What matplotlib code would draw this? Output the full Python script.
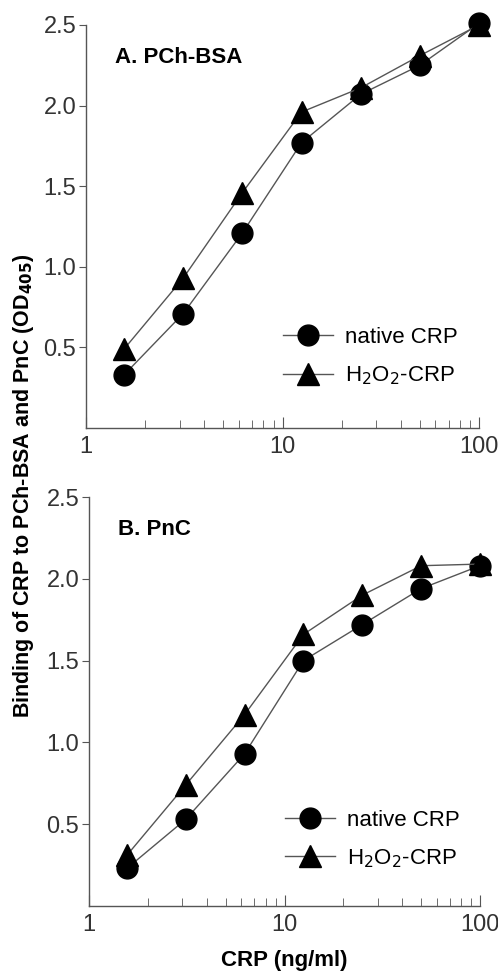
import matplotlib
matplotlib.use("Agg")
import matplotlib.pyplot as plt
from matplotlib.ticker import FixedLocator, LogLocator, NullFormatter

plt.rcParams['font.family'] = ['Liberation Sans', 'DejaVu Sans']

# CRP concentration (ng/ml), two-fold dilutions
crp = [1.5625, 3.125, 6.25, 12.5, 25, 50, 100]

# A. PCh-BSA
a_native = [0.33, 0.71, 1.21, 1.77, 2.07, 2.25, 2.51]
a_h2o2 = [0.49, 0.93, 1.46, 1.96, 2.11, 2.31, 2.50]

# B. PnC
b_native = [0.23, 0.53, 0.93, 1.50, 1.72, 1.94, 2.08]
b_h2o2 = [0.31, 0.74, 1.17, 1.66, 1.90, 2.08, 2.09]

panels = [("A. PCh-BSA", a_native, a_h2o2), ("B. PnC", b_native, b_h2o2)]
yticks = [0.5, 1.0, 1.5, 2.0, 2.5]
xticks = [1, 10, 100]

grey = '#555555'
fig = plt.figure(figsize=(4.98, 9.71), dpi=100)
# axes boxes in pixels: left, top, right, bottom
boxes = [(86, 25, 479, 428), (89, 497, 480, 906)]
leg_pos = [(0.45, 0.176), (0.45, 0.162)]
W, H = 498, 971

for (title, nat, hx), (l, t, r, b), lp in zip(panels, boxes, leg_pos):
    ax = fig.add_axes([l / W, 1 - b / H, (r - l) / W, (b - t) / H])
    ax.plot(crp, nat, color=grey, lw=1, marker='o', ms=15, mfc='black',
            mec='black', label='native CRP', zorder=3)
    ax.plot(crp, hx, color=grey, lw=1, marker='^', ms=16, mfc='black',
            mec='black', label='H$_2$O$_2$-CRP', zorder=3)
    ax.set_xscale('log')
    ax.set_xlim(1, 100)
    ax.set_ylim(0, 2.5)
    ax.set_yticks(yticks)
    ax.set_yticklabels([f"{v:.1f}" for v in yticks])
    ax.xaxis.set_major_locator(FixedLocator(xticks))
    ax.set_xticklabels([str(v) for v in xticks])
    ax.xaxis.set_minor_locator(LogLocator(base=10, subs=range(2, 10)))
    ax.xaxis.set_minor_formatter(NullFormatter())
    for s in ['top', 'right']:
        ax.spines[s].set_visible(False)
    for s in ['left', 'bottom']:
        ax.spines[s].set_color(grey)
        ax.spines[s].set_linewidth(1)
    ax.tick_params(axis='y', direction='out', length=5, color=grey,
                   labelsize=17, labelcolor='#333333', pad=2)
    ax.tick_params(axis='x', which='both', direction='in', length=8,
                   color=grey, labelsize=17, labelcolor='#333333', pad=6)
    ax.tick_params(axis='x', which='minor', length=6)
    for sp in ax.spines.values():
        sp.set_clip_on(False)
    for ln in ax.lines:
        ln.set_clip_on(False)
    ax.text(0.075, 0.92, title, transform=ax.transAxes, fontsize=16,
            fontweight='bold', va='center', ha='left')
    ax.legend(loc='center left', bbox_to_anchor=lp,
              frameon=False, fontsize=16, handlelength=2.25,
              labelspacing=0.75, handletextpad=0.55)

fig.text(24 / W, 0.5, 'Binding of CRP to PCh-BSA and PnC (OD$_{\\mathbf{405}}$)',
         rotation=90, va='center', ha='center', fontsize=15.5,
         fontweight='bold')
fig.text((89 + 480) / 2 / W, 1 - 960 / H, 'CRP (ng/ml)', va='center',
         ha='center', fontsize=16, fontweight='bold')

fig.savefig('out.png', dpi=100)
